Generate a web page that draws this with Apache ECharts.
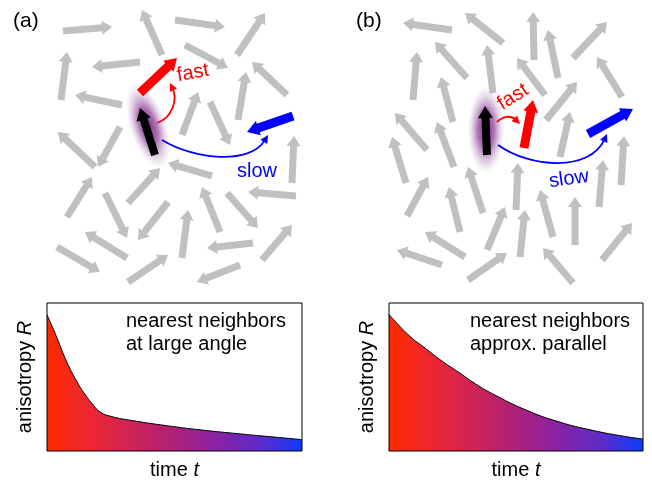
<!DOCTYPE html>
<html><head><meta charset="utf-8">
<script src="https://cdn.jsdelivr.net/npm/echarts@6/dist/echarts.min.js"></script>
<style>html,body{margin:0;padding:0;background:#fff}#c{width:652px;height:481px}</style>
</head><body><div id="c"></div>
<script>
const FONT = '"Liberation Sans", Arial, Helvetica, sans-serif';

// ---- data: arrows [tailX, tailY, headX, headY] in field units ----
const grayArrowsA = [
  [63,31,112,27],[162,55,142,10],[175,20,225,27],[237,55,265,13],[185,45,228,68],
  [61,100,67,52],[140,62,92,67],[287,95,252,62],[238,120,246,72],[122,105,75,95],
  [182,135,198,92],[210,102,230,145],[95,167,58,132],[120,127,98,167],[292,183,294,136],
  [212,176,168,163],[67,217,92,177],[128,203,160,168],[296,196,248,192],[105,193,127,238],
  [220,232,202,187],[227,193,258,228],[168,202,138,240],[182,258,188,210],[262,260,292,225],
  [127,258,85,232],[253,243,207,248],[57,247,100,272],[128,282,168,255],[240,265,197,282]
];
const grayArrowsB = [
  [452,30,403,23],[503,43,465,13],[534,60,533,12],[573,58,607,22],[467,78,435,42],
  [413,100,417,52],[493,93,487,45],[558,78,548,30],[545,95,517,58],[622,97,597,57],
  [546,120,577,82],[453,122,441,77],[427,150,395,113],[406,183,392,137],[454,167,437,122],
  [560,157,570,112],[599,207,603,160],[621,185,624,136],[407,216,428,177],[460,232,449,187],
  [483,213,468,167],[487,250,505,207],[520,257,525,210],[516,210,518,163],[553,237,540,190],
  [575,245,575,197],[602,260,632,223],[465,257,425,232],[442,265,397,250],[468,280,507,253],
  [573,283,543,248]
];
const probeArrows = [[155,155,140,108],[487,155,485,106]];
const fastArrows = [[140,93,177,58],[524,148,533,100]];
const slowArrows = [[293,116,247,132],[588,134,633,109]];
const glows = [[148,126,18],[486,130,0]];
// curved transition arrows: [x0,y0, c1x,c1y, c2x,c2y, x1,y1]
const fastPaths = [[157,123,172,118,178,100,170,83],[497,122,503,116,511,115,520,124]];
const slowPaths = [[162,140,195,160,250,165,268,135],[498,145,530,168,590,172,607,134]];
const fastLabels = [[193,73,10],[513,97,32]];
const slowLabels = [[257,171,0],[569,179,8]];
const fastWord = 'fast', slowWord = 'slow';

// ---- decay curves ----
const timeA  = [0, 0.33, 0.78, 1.17, 1.44, 1.83, 2.09, 2.48, 3.4, 4.7, 6.0, 7.3, 8.6, 10];
const anisoA = [0.92, 0.79, 0.60, 0.47, 0.395, 0.307, 0.263, 0.235, 0.204, 0.171, 0.143, 0.12, 0.099, 0.077];
const timeB  = [0, 0.79, 1.43, 2.1, 2.76, 3.41, 4.07, 5.38, 6.69, 8.0, 9.3, 10];
const anisoB = [0.923, 0.78, 0.694, 0.606, 0.53, 0.453, 0.387, 0.278, 0.197, 0.14, 0.098, 0.081];

const panelLabels = ['(a)', '(b)'];
const boxTextA = ['nearest neighbors', 'at large angle'];
const boxTextB = ['nearest neighbors', 'approx. parallel'];
const yName = 'anisotropy ', yVar = 'R', xName = 'time ', xVar = 't';

// ---- renderers ----
function arrowRenderer(bodyW, headW, headL, color) {
  return function (params, api) {
    const t = api.coord([api.value(0), api.value(1)]);
    const h = api.coord([api.value(2), api.value(3)]);
    const dx = h[0] - t[0], dy = h[1] - t[1], L = Math.hypot(dx, dy);
    const ux = dx / L, uy = dy / L, px = -uy, py = ux;
    const nx = h[0] - ux * headL, ny = h[1] - uy * headL;
    const b = bodyW / 2, w = headW / 2;
    const pts = [
      [t[0] + px * b, t[1] + py * b], [nx + px * b, ny + py * b], [nx + px * w, ny + py * w],
      [h[0], h[1]], [nx - px * w, ny - py * w], [nx - px * b, ny - py * b], [t[0] - px * b, t[1] - py * b]
    ];
    return { type: 'polygon', shape: { points: pts }, style: { fill: color } };
  };
}
function curveRenderer(color, lw, headL, headW) {
  return function (params, api) {
    const p = [0, 2, 4, 6].map(i => api.coord([api.value(i), api.value(i + 1)]));
    const end = p[3], c2 = p[2];
    let dx = end[0] - c2[0], dy = end[1] - c2[1];
    const L = Math.hypot(dx, dy); dx /= L; dy /= L;
    const bx = end[0] - dx * headL, by = end[1] - dy * headL;
    return { type: 'group', children: [
      { type: 'bezierCurve', shape: { x1: p[0][0], y1: p[0][1], cpx1: p[1][0], cpy1: p[1][1], cpx2: p[2][0], cpy2: p[2][1], x2: bx + dx * 2, y2: by + dy * 2 },
        style: { stroke: color, fill: null, lineWidth: lw } },
      { type: 'polygon', shape: { points: [[end[0], end[1]], [bx - dy * headW / 2, by + dx * headW / 2], [bx + dy * headW / 2, by - dx * headW / 2]] },
        style: { fill: color } }
    ] };
  };
}
function textRenderer(word, color) {
  return function (params, api) {
    const c = api.coord([api.value(0), api.value(1)]);
    return { type: 'text', x: c[0], y: c[1], rotation: api.value(2) * Math.PI / 180,
      style: { text: word, fill: color, fontSize: 20, fontFamily: FONT, align: 'center', verticalAlign: 'middle' } };
  };
}
function glowRenderer(params, api) {
  const c = api.coord([api.value(0), api.value(1)]);
  return { type: 'circle', x: c[0], y: c[1], rotation: api.value(2) * Math.PI / 180, scaleX: 0.42, scaleY: 1,
    shape: { cx: 0, cy: 0, r: 44 },
    style: { fill: { type: 'radial', x: 0.5, y: 0.5, r: 0.5, colorStops: [
      { offset: 0, color: 'rgba(110,30,120,0.95)' },
      { offset: 0.45, color: 'rgba(140,60,150,0.7)' },
      { offset: 0.75, color: 'rgba(170,110,180,0.3)' },
      { offset: 1, color: 'rgba(200,160,210,0)' }] } } };
}
const fieldSeries = (data, render, z) => ({ type: 'custom', xAxisIndex: 0, yAxisIndex: 0, data, renderItem: render, z: z, silent: true, animation: false });

const gradFill = { type: 'linear', x: 0, y: 0, x2: 1, y2: 0, colorStops: [
  { offset: 0, color: '#ff2a00' }, { offset: 0.2, color: '#e8263a' }, { offset: 0.45, color: '#b8216e' },
  { offset: 0.65, color: '#8c22a0' }, { offset: 0.85, color: '#5a2ccc' }, { offset: 1, color: '#0a3cff' }] };

const richName = () => ({
  a: { fontSize: 20, fontFamily: FONT, color: '#000' },
  b: { fontSize: 20, fontFamily: FONT, color: '#000', fontStyle: 'italic' }
});
function chartAxes(idx) {
  return {
    x: { gridIndex: idx, type: 'value', min: 0, max: 10, axisLine: { show: false }, axisTick: { show: false }, axisLabel: { show: false }, splitLine: { show: false },
      name: '{a|' + xName + '}{b|' + xVar + '}', nameLocation: 'middle', nameGap: 9, nameTextStyle: { rich: richName() } },
    y: { gridIndex: idx, type: 'value', min: 0, max: 1, axisLine: { show: false }, axisTick: { show: false }, axisLabel: { show: false }, splitLine: { show: false },
      name: '{a|' + yName + '}{b|' + yVar + '}', nameLocation: 'middle', nameGap: 12, nameTextStyle: { rich: richName() } }
  };
}
const axA = chartAxes(1), axB = chartAxes(2);
const titleStyle = { fontSize: 20, fontWeight: 'normal', fontFamily: FONT, color: '#000', lineHeight: 23 };

const option = {
  backgroundColor: '#fff',
  animation: false,
  title: [
    { text: panelLabels[0], left: 13, top: 10, padding: 0, textStyle: Object.assign({}, titleStyle, { fontSize: 21 }) },
    { text: panelLabels[1], left: 356, top: 10, padding: 0, textStyle: Object.assign({}, titleStyle, { fontSize: 21 }) },
    { text: boxTextA.join('\n'), left: 126, top: 310, padding: 0, textStyle: titleStyle },
    { text: boxTextB.join('\n'), left: 470, top: 310, padding: 0, textStyle: titleStyle }
  ],
  grid: [
    { left: 0, top: 0, width: 652, height: 481, show: false },
    { left: 47, top: 303, width: 255, height: 152, show: true, borderColor: '#000', borderWidth: 1, z: 10 },
    { left: 389, top: 303, width: 254, height: 153, show: true, borderColor: '#000', borderWidth: 1, z: 10 }
  ],
  xAxis: [
    { gridIndex: 0, type: 'value', min: 0, max: 652, show: false },
    axA.x, axB.x
  ],
  yAxis: [
    { gridIndex: 0, type: 'value', min: 0, max: 481, inverse: true, show: false },
    axA.y, axB.y
  ],
  series: [
    fieldSeries(grayArrowsA, arrowRenderer(7, 14, 10, '#c0c0c0'), 2),
    fieldSeries(grayArrowsB, arrowRenderer(7, 14, 10, '#c0c0c0'), 2),
    fieldSeries(glows, glowRenderer, 3),
    fieldSeries(probeArrows, arrowRenderer(8, 15, 12, '#000000'), 4),
    fieldSeries(fastArrows, arrowRenderer(9, 15, 12, '#ff0000'), 4),
    fieldSeries(slowArrows, arrowRenderer(9, 15, 12, '#0000ff'), 4),
    fieldSeries(fastPaths, curveRenderer('#ff0000', 1.8, 8, 8), 5),
    fieldSeries(slowPaths, curveRenderer('#0000ff', 1.8, 8, 8), 5),
    fieldSeries(fastLabels, textRenderer(fastWord, '#ff0000'), 6),
    fieldSeries(slowLabels, textRenderer(slowWord, '#0000ff'), 6),
    { type: 'line', xAxisIndex: 1, yAxisIndex: 1, data: timeA.map((t, i) => [t, anisoA[i]]), smooth: 0.5,
      showSymbol: false, lineStyle: { color: '#000', width: 1 }, areaStyle: { color: gradFill, opacity: 1 }, silent: true },
    { type: 'line', xAxisIndex: 2, yAxisIndex: 2, data: timeB.map((t, i) => [t, anisoB[i]]), smooth: 0.5,
      showSymbol: false, lineStyle: { color: '#000', width: 1 }, areaStyle: { color: gradFill, opacity: 1 }, silent: true }
  ]
};
const chart = echarts.init(document.getElementById('c'), null, { renderer: 'canvas' });
chart.setOption(option);
</script></body></html>
